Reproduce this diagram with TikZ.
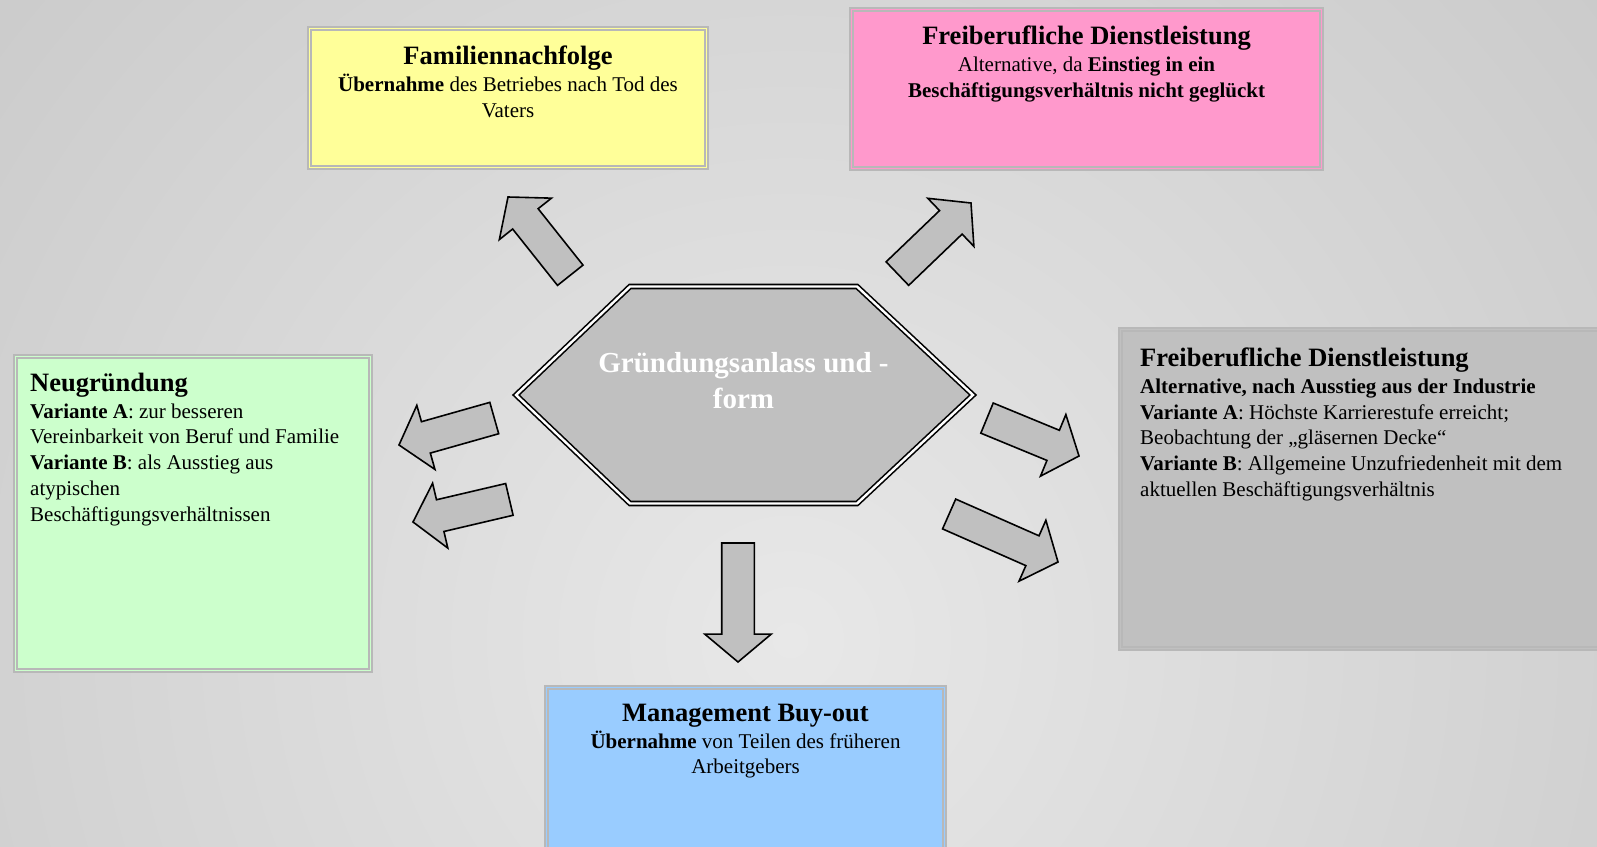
\documentclass[tikz,border=0pt]{standalone}
\usepackage{fontspec}
\setmainfont{Liberation Serif}
\usetikzlibrary{shapes.arrows}

\definecolor{bglight}{HTML}{E8E8E8}
\definecolor{bgdark}{HTML}{B0B0B0}
\definecolor{framegray}{HTML}{B8B8B8}
\definecolor{famyellow}{HTML}{FFFF99}
\definecolor{freipink}{HTML}{FF99CC}
\definecolor{neugreen}{HTML}{CCFFCC}
\definecolor{mboblue}{HTML}{99CCFF}
\definecolor{boxgray}{HTML}{C0C0C0}

\tikzset{
  card/.style={draw=framegray, line width=1.8pt, double=#1, double distance=1.2pt, fill=#1, inner sep=0pt},
  cardtext/.style={inner sep=0pt, font=\fontsize{21}{25.7}\selectfont},
  blockarrow/.style={single arrow, draw=black, line width=1.6pt, fill=boxgray, anchor=tip, outer sep=0pt,
    single arrow head extend=17pt, single arrow tip angle=100, inner xsep=0pt, inner ysep=15.5pt},
}
\newcommand{\boxtitle}[1]{{\fontsize{26.5}{25.7}\selectfont\bfseries #1}}

\begin{document}
\begin{tikzpicture}[x=1pt,y=-1pt]
\useasboundingbox (0,0) rectangle (1597,846);
\clip (0,0) rectangle (1597,846);
\shade[inner color=bglight, outer color=bgdark] (790,640) circle (2000pt);

% boxes
\node[card=famyellow, minimum width=397pt, minimum height=139pt] (famil) at (508,98) {};
\node[card=freipink, minimum width=470pt, minimum height=159pt] (freiA) at (1086.5,89) {};
\node[card=neugreen, minimum width=355pt, minimum height=314pt] (neu) at (193,513.5) {};
\node[card=boxgray, minimum width=487pt, minimum height=319pt] (freiB) at (1364,489) {};
\node[card=mboblue, minimum width=398pt, minimum height=180pt] (mbo) at (745.5,777.5) {};

% hexagon
\draw[black, line width=1.6pt, double=white, double distance=2.4pt, fill=boxgray]
  (516,395) -- (630,286.5) -- (857,286.5) -- (973,395) -- (857,503.5) -- (630,503.5) -- cycle;
\node[font=\fontsize{29}{36}\selectfont\bfseries, text=white, align=center, inner sep=0pt, anchor=north]
  (hub) at (743.5,352) {Gründungsanlass und -\\form};

% arrows (placed by their tips)
\node[blockarrow, minimum height=100pt, rotate=128.5] (toFamil) at (508,197) {};
\node[blockarrow, minimum height=102pt, rotate=43.8] (toFreiA) at (971,203) {};
\node[blockarrow, minimum height=99pt, rotate=195.8] (toNeuA) at (399,445) {};
\node[blockarrow, minimum height=99pt, rotate=193.2] (toNeuB) at (413,522) {};
\node[blockarrow, minimum height=99.5pt, rotate=-22.4] (toFreiB1) at (1079,456) {};
\node[blockarrow, minimum height=119pt, rotate=-23.8] (toFreiB2) at (1058,562) {};
\node[blockarrow, minimum height=119pt, rotate=-90] (toMbo) at (738,662) {};

% texts
\node[cardtext, align=center, anchor=north] (famil-t) at (508,46)
  {\boxtitle{Familiennachfolge}\\[1pt] \textbf{Übernahme} des Betriebes nach Tod des\\ Vaters};
\node[cardtext, align=center, anchor=north] (freiA-t) at (1086.5,26)
  {\boxtitle{Freiberufliche Dienstleistung}\\[1pt] Alternative, da \textbf{Einstieg in ein}\\ \textbf{Beschäftigungsverhältnis nicht geglückt}};
\node[cardtext, align=left, anchor=north west] (neu-t) at (30,373)
  {\boxtitle{Neugründung}\\[1pt] \textbf{Variante A}: zur besseren\\ Vereinbarkeit von Beruf und Familie\\ \textbf{Variante B}: als Ausstieg aus\\ atypischen\\ Beschäftigungsverhältnissen};
\node[cardtext, align=left, anchor=north west] (freiB-t) at (1140,348)
  {\boxtitle{Freiberufliche Dienstleistung}\\[1pt] \textbf{Alternative, nach Ausstieg aus der Industrie}\\ \textbf{Variante A}: Höchste Karrierestufe erreicht;\\ Beobachtung der „gläsernen Decke“\\ \textbf{Variante B}: Allgemeine Unzufriedenheit mit dem\\ aktuellen Beschäftigungsverhältnis};
\node[cardtext, align=center, anchor=north] (mbo-t) at (745.5,704)
  {\boxtitle{Management Buy-out}\\[1pt] \textbf{Übernahme} von Teilen des früheren\\ Arbeitgebers};
\end{tikzpicture}
\end{document}
